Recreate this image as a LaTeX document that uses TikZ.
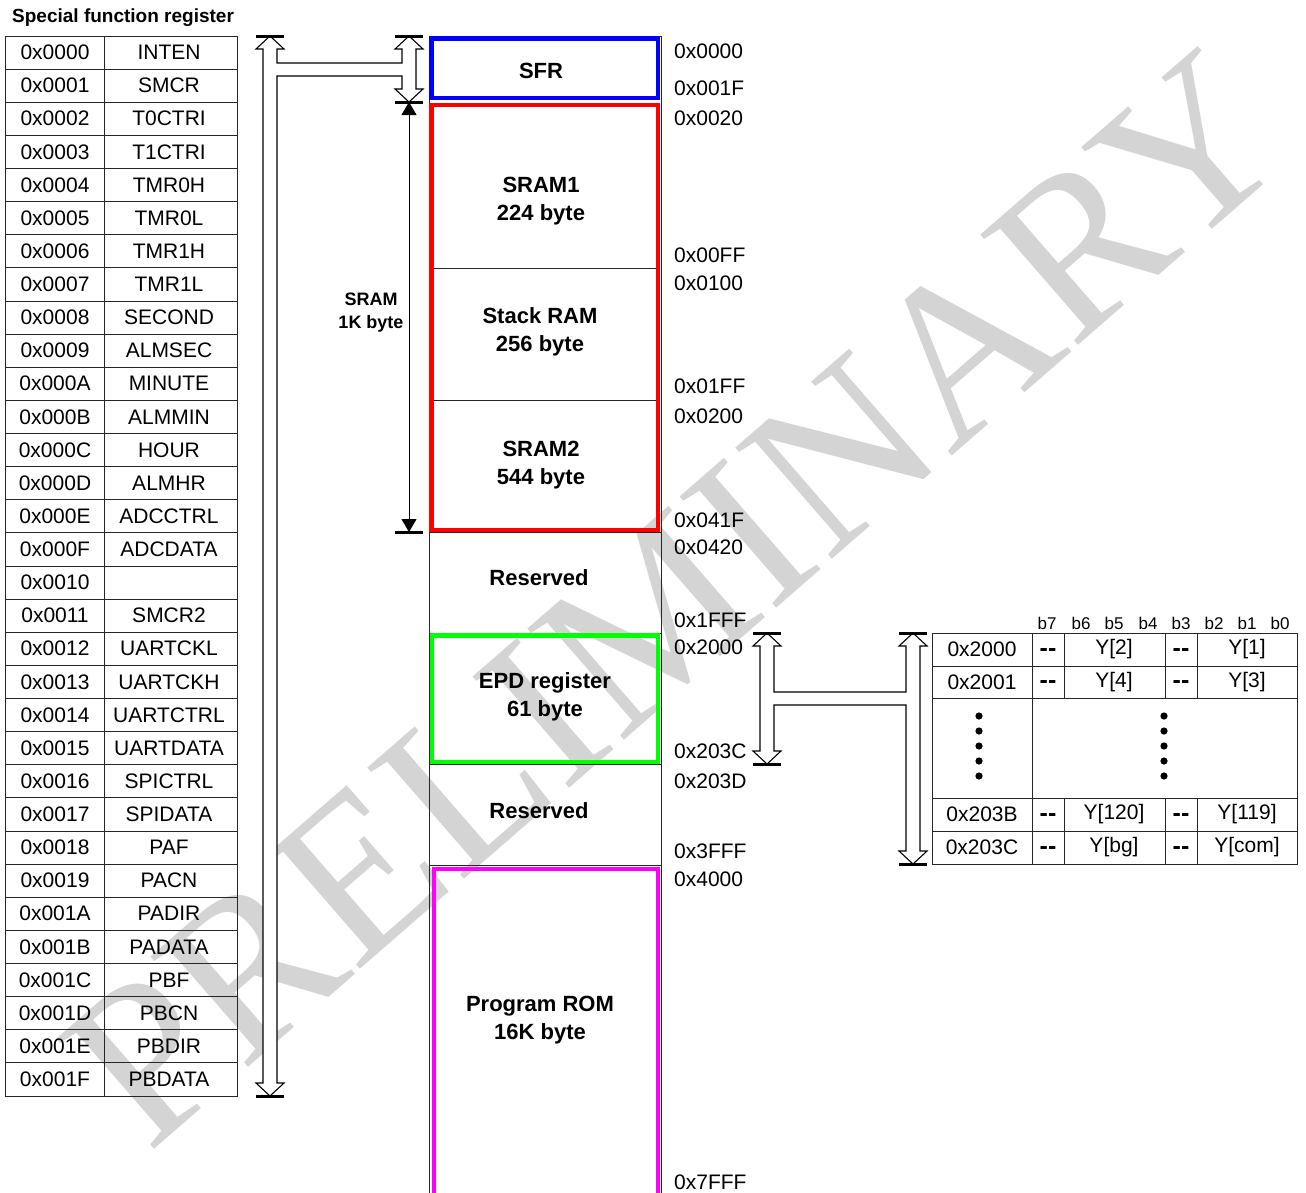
\documentclass[tikz,border=0pt]{standalone}
\usepackage{fontspec}
\setmainfont{Liberation Sans}
\newfontfamily\wmfont{Liberation Serif}
\usetikzlibrary{arrows.meta}
\begin{document}
\begin{tikzpicture}[x=1pt,y=-1pt,
  lbl/.style={font=\fontsize{21}{23}\selectfont, inner sep=0},
  addr/.style={font=\fontsize{21}{23}\selectfont, inner sep=0, anchor=west},
  blbl/.style={font=\fontsize{22}{28}\selectfont\bfseries, inner sep=0, align=center},
  bit/.style={font=\fontsize{17}{19}\selectfont, inner sep=0},
  dashtxt/.style={font=\fontsize{25}{27}\selectfont\bfseries, inner sep=0},
  grid/.style={line width=1pt, draw=black!85},
  bar/.style={line width=3pt},
  hollow/.style={line width=1.1pt, fill=white, line join=miter},
  memc/.style={line width=4.5pt}
]
\useasboundingbox (0,0) rectangle (1306,1192);
% watermark
\node[font=\wmfont\fontsize{225}{225}\selectfont, text=black!17, rotate=41, inner sep=0] (wm) at (675,598) {PRELIMINARY};

% title
\node[font=\fontsize{19}{21}\selectfont\bfseries, anchor=west, inner sep=0] (title) at (12,18) {Special function register};

% left table
\draw[grid] (5,36) rectangle (237,1096);
\draw[grid] (104,36) -- (104,1096);
\foreach \i in {1,...,31} {
  \pgfmathsetmacro{\yy}{36+33.125*\i}
  \draw[grid] (5,\yy) -- (237,\yy);
}
\foreach \a/\n [count=\i from 0] in {0000/INTEN,0001/SMCR,0002/T0CTRI,0003/T1CTRI,0004/TMR0H,0005/TMR0L,0006/TMR1H,0007/TMR1L,0008/SECOND,0009/ALMSEC,000A/MINUTE,000B/ALMMIN,000C/HOUR,000D/ALMHR,000E/ADCCTRL,000F/ADCDATA,0010/{},0011/SMCR2,0012/UARTCKL,0013/UARTCKH,0014/UARTCTRL,0015/UARTDATA,0016/SPICTRL,0017/SPIDATA,0018/PAF,0019/PACN,001A/PADIR,001B/PADATA,001C/PBF,001D/PBCN,001E/PBDIR,001F/PBDATA} {
  \pgfmathsetmacro{\yy}{52.5+33.125*\i}
  \node[lbl] (ra\i) at (55,\yy) {0x\a};
  \node[lbl] (rn\i) at (169,\yy) {\n};
}

% hollow T-arrow (SFR range)
\draw[hollow] (270,36) -- (284,49) -- (277,49) -- (277,63) -- (402,63) -- (402,49) -- (395,49) -- (409,36) -- (423,49) -- (416,49) -- (416,89) -- (423,89) -- (409,102) -- (395,89) -- (402,89) -- (402,76) -- (277,76) -- (277,1083) -- (284,1083) -- (270,1096) -- (256,1083) -- (263,1083) -- (263,49) -- (256,49) -- cycle;
\draw[bar] (256,36) -- (284,36);
\draw[bar] (256,1096) -- (284,1096);
\draw[bar] (395,36) -- (423,36);
\draw[bar] (395,102) -- (423,102);

% SRAM 1K arrow
\coordinate (s1) at (409,102);
\coordinate (s2) at (409,532);
\draw[line width=1pt, {Triangle[length=13pt,width=15pt]}-{Triangle[length=13pt,width=15pt]}] (s1) -- (s2);
\draw[bar] (395,532) -- (423,532);
\node[font=\fontsize{18}{23}\selectfont\bfseries, align=center, inner sep=0] (sramlbl) at (371,313) {SRAM\\1K byte};

% memory column
\draw[grid] (429,36) rectangle (661,1200);
\draw[grid] (429,532) -- (661,532);
\draw[grid] (429,633) -- (661,633);
\draw[grid] (429,764) -- (661,764);
\draw[grid] (429,865) -- (661,865);
\draw[grid] (433,268) -- (657,268);
\draw[grid] (433,400) -- (657,400);
\draw[memc, draw={rgb,255:red,0;green,0;blue,255}] (431.5,38.5) rectangle (658,98);
\draw[memc, draw={rgb,255:red,255;green,0;blue,0}] (431.5,105) rectangle (658,530);
\draw[memc, draw={rgb,255:red,0;green,255;blue,0}] (432,635.5) rectangle (658,762);
\draw[memc, draw={rgb,255:red,255;green,0;blue,255}] (434,869) rectangle (658,1200);

\node[blbl] (sfr) at (541,71) {SFR};
\node[blbl] (sram1) at (541,201) {SRAM1\\224 byte};
\node[blbl] (stack) at (540,332) {Stack RAM\\256 byte};
\node[blbl] (sram2) at (541,465) {SRAM2\\544 byte};
\node[blbl] (res1) at (539,578) {Reserved};
\node[blbl] (epd) at (545,697) {EPD register\\61 byte};
\node[blbl] (res2) at (539,811) {Reserved};
\node[blbl] (rom) at (540,1020) {Program ROM\\16K byte};

% addresses
\foreach \t/\yy [count=\k] in {0x0000/51,0x001F/88,0x0020/118,0x00FF/255,0x0100/283,0x01FF/386,0x0200/416,0x041F/520,0x0420/547,0x1FFF/620,0x2000/647,0x203C/751,0x203D/781,0x3FFF/851,0x4000/879,0x7FFF/1182}
  \node[addr] (ad\k) at (674,\yy) {\t};

% hollow H-arrow (EPD range)
\draw[hollow] (767,633) -- (781,646) -- (774,646) -- (774,692) -- (906,692) -- (906,646) -- (899,646) -- (913,633) -- (927,646) -- (920,646) -- (920,851) -- (927,851) -- (913,864) -- (899,851) -- (906,851) -- (906,705) -- (774,705) -- (774,751) -- (781,751) -- (767,764) -- (753,751) -- (760,751) -- (760,646) -- (753,646) -- cycle;
\draw[bar] (753,633) -- (781,633);
\draw[bar] (753,764) -- (781,764);
\draw[bar] (899,633) -- (927,633);
\draw[bar] (899,864) -- (927,864);

% right table
\draw[grid] (932,633) rectangle (1297,864);
\foreach \yy in {666,698,798,831} \draw[grid] (932,\yy) -- (1297,\yy);
\draw[grid] (1032,633) -- (1032,864);
\foreach \xx in {1064,1165,1197} {
  \draw[grid] (\xx,633) -- (\xx,698);
  \draw[grid] (\xx,798) -- (\xx,864);
}
\foreach \b/\xx in {b7/1047,b6/1081,b5/1114,b4/1148,b3/1181,b2/1214,b1/1247,b0/1280}
  \node[bit] (\b) at (\xx,623) {\b};
\foreach \ad/\ya/\yb/\yy [count=\k] in {0x2000/{Y[2]}/{Y[1]}/649.5,0x2001/{Y[4]}/{Y[3]}/682,0x203B/{Y[120]}/{Y[119]}/814.5,0x203C/{Y[bg]}/{Y[com]}/847.5} {
  \node[lbl] (ea\k) at (982,\yy) {\ad};
  \node[dashtxt] (ed\k) at (1048,\yy+3) {{-}{-}};
  \node[lbl] (ey\k) at (1114,\yy) {\ya};
  \node[dashtxt] (ef\k) at (1181,\yy+3) {{-}{-}};
  \node[lbl] (ez\k) at (1247,\yy) {\yb};
}
\foreach \yy [count=\k] in {716,731,746,761,776} {
  \fill (979,\yy) circle (3.6);
  \fill (1164,\yy) circle (3.6);
}
\end{tikzpicture}
\end{document}
